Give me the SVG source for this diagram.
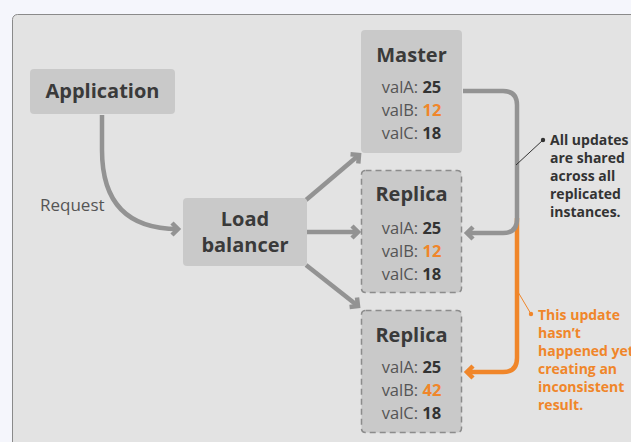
<svg xmlns="http://www.w3.org/2000/svg" width="631" height="442" viewBox="0 0 631 442">
<style>
text{font-family:"Open Sans","Noto Sans","DejaVu Sans",sans-serif}
.title{font-size:20px;font-weight:700;fill:#3a3a3a;text-anchor:middle}
.val{font-size:16.5px;fill:#555;text-anchor:middle}
.num{font-weight:700;fill:#333}
.org{fill:#f0862a}
.box{fill:#c9c9c9}
.dash{fill:#c9c9c9;stroke:#8c8c8c;stroke-width:1.5;stroke-dasharray:6 4}
.conn{fill:none;stroke:#939393;stroke-width:4.5}
.oconn{fill:none;stroke:#f0862a;stroke-width:4.5}
.note{font-size:14px;font-weight:700}
</style>
<defs>
<marker id="ah" markerUnits="userSpaceOnUse" markerWidth="16" markerHeight="16" viewBox="-8 -8 16 16" refX="0" refY="0" orient="auto">
<path d="M-6,-6 L0,0 L-6,6" fill="none" stroke="#939393" stroke-width="4.5"/>
</marker>
<marker id="aho" markerUnits="userSpaceOnUse" markerWidth="16" markerHeight="16" viewBox="-8 -8 16 16" refX="0" refY="0" orient="auto">
<path d="M-6,-6 L0,0 L-6,6" fill="none" stroke="#f0862a" stroke-width="4.5"/>
</marker>
</defs>
<rect width="631" height="442" fill="#f5f6fc"/>
<rect x="12.5" y="14.5" width="640" height="460" rx="5" fill="#e3e3e3" stroke="#8a8a8a" stroke-width="1"/>

<g id="connectors">
<path class="conn" d="M102,115 V150 Q102,229 178,229" marker-end="url(#ah)"/>
<path class="conn" d="M306,200 L359,155" marker-end="url(#ah)"/>
<path class="conn" d="M307,232 L358,232" marker-end="url(#ah)"/>
<path class="conn" d="M306,265 L358,306" marker-end="url(#ah)"/>
<path class="oconn" d="M517,218 V358 Q517,372 503,372 H467" marker-end="url(#aho)"/>
<path class="conn" d="M463,91 H503 Q517,91 517,105 V219 Q517,233 503,233 H467" marker-end="url(#ah)"/>
<path d="M516,165 L543,140" stroke="#333" stroke-width="1" fill="none"/>
<circle cx="543" cy="140" r="2.2" fill="#333"/>
<path d="M518,292 L531,314" stroke="#f0862a" stroke-width="1" fill="none"/>
<circle cx="531" cy="314" r="2.2" fill="#f0862a"/>
<text x="40" y="211" font-size="17" fill="#555">Request</text>
</g>

<g id="application">
<rect class="box" x="30" y="69" width="145" height="45" rx="4"/>
<text class="title" x="102.5" y="98">Application</text>
</g>

<g id="loadbalancer">
<rect class="box" x="183" y="198" width="124" height="68" rx="4"/>
<text class="title" x="245" y="226">Load</text>
<text class="title" x="245" y="252">balancer</text>
</g>

<g id="master">
<rect class="box" x="361" y="30" width="101" height="123" rx="4"/>
<text class="title" x="411.5" y="62">Master</text>
<text class="val" x="411.5" y="93">valA: <tspan class="num">25</tspan></text>
<text class="val" x="411.5" y="116">valB: <tspan class="num org">12</tspan></text>
<text class="val" x="411.5" y="139">valC: <tspan class="num">18</tspan></text>
</g>

<g id="replica1">
<rect class="dash" x="361.5" y="170.5" width="100" height="122" rx="4"/>
<text class="title" x="411.5" y="201">Replica</text>
<text class="val" x="411.5" y="234">valA: <tspan class="num">25</tspan></text>
<text class="val" x="411.5" y="257">valB: <tspan class="num org">12</tspan></text>
<text class="val" x="411.5" y="280">valC: <tspan class="num">18</tspan></text>
</g>

<g id="replica2">
<rect class="dash" x="361.5" y="310.5" width="100" height="122" rx="4"/>
<text class="title" x="411.5" y="342">Replica</text>
<text class="val" x="411.5" y="373">valA: <tspan class="num">25</tspan></text>
<text class="val" x="411.5" y="396">valB: <tspan class="num org">42</tspan></text>
<text class="val" x="411.5" y="419">valC: <tspan class="num">18</tspan></text>
</g>

<g id="note-shared">
<text class="note" fill="#333" x="550"><tspan x="550" y="145">All updates</tspan><tspan x="550" y="163">are shared</tspan><tspan x="550" y="181">across all</tspan><tspan x="550" y="199">replicated</tspan><tspan x="550" y="217">instances.</tspan></text>
</g>

<g id="note-inconsistent">
<text class="note" fill="#f0862a" x="538"><tspan x="538" y="320">This update</tspan><tspan x="538" y="338">hasn’t</tspan><tspan x="538" y="356">happened yet</tspan><tspan x="538" y="374">creating an</tspan><tspan x="538" y="392">inconsistent</tspan><tspan x="538" y="410">result.</tspan></text>
</g>
</svg>
